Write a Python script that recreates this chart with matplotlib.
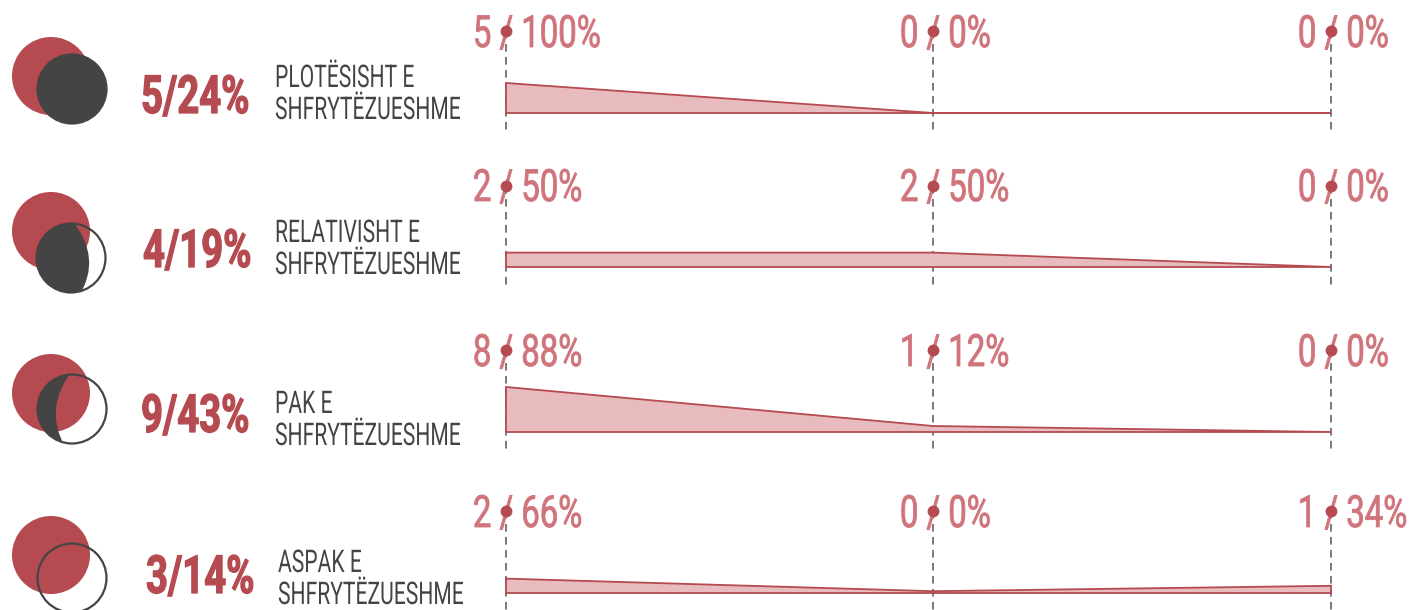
import matplotlib
matplotlib.use("Agg")
import matplotlib.pyplot as plt
from matplotlib.patches import Circle, PathPatch, Polygon
from matplotlib.path import Path
from matplotlib.text import Text
from matplotlib.textpath import TextPath
from matplotlib.transforms import Affine2D, Bbox
from matplotlib.font_manager import FontProperties

# ---- data ----
categories = [["PLOTËSISHT E", "SHFRYTËZUESHME"], ["RELATIVISHT E", "SHFRYTËZUESHME"],
              ["PAK E", "SHFRYTËZUESHME"], ["ASPAK E", "SHFRYTËZUESHME"]]
totals = ["5/24%", "4/19%", "9/43%", "3/14%"]
counts = [[5, 0, 0], [2, 2, 0], [8, 1, 0], [2, 0, 1]]
percents = [[100, 0, 0], [50, 50, 0], [88, 12, 0], [66, 0, 34]]
band_heights = [[5.0, 0, 0], [2.4, 2.4, 0], [7.5, 1.0, 0], [2.4, 0.3, 1.2]]

# ---- layout (pixels) ----
W, H = 1413, 610
RED, PINK, BAND, DARK = "#b54a50", "#d0747b", "#e8bcbf", "#444444"
col_x = [506, 933, 1331]
base_y = [113, 267, 432, 593]
dot_y = [31, 186, 350, 511]
val_base = [47, 201, 366, 527]
total_x = [141, 143, 141, 146]
total_base = [113, 267, 432, 593]
label_x = [275, 275, 275, 278]
label_base = [87, 242, 413, 572]
red_c = [(51, 76), (51, 231), (51, 393), (51, 555)]
ring_c = [(72, 89), (71, 258), (72, 409), (72, 578)]
phase = [None, ((72, 220), (102.5, 258), (79, 296)), ((72, 371), (43.5, 408), (65, 447)), None]
PX_PER_UNIT = 6


class CondensedText(Text):
    """A live Text whose glyphs are set narrower, as no condensed face is installed."""

    def __init__(self, *args, xscale=0.72, pitch=32, embolden=0.0, **kwargs):
        super().__init__(*args, **kwargs)
        self.xscale = xscale
        self.pitch = pitch
        self.embolden = embolden

    def _line_paths(self):
        fp = self.get_fontproperties()
        size = fp.get_size_in_points() * self.get_figure().dpi / 72
        return [TextPath((0, 0), ln, size=size, prop=fp) for ln in self.get_text().split("\n")]

    def _origin(self):
        return self.get_transform().transform(self.get_unitless_position())

    def draw(self, renderer):
        if not self.get_visible():
            return
        x0, y0 = self._origin()
        gc = renderer.new_gc()
        gc.set_foreground(self.get_color())
        gc.set_linewidth(self.embolden)
        gc.set_clip_rectangle(self.get_figure().bbox)
        face = matplotlib.colors.to_rgba(self.get_color())
        for i, p in enumerate(self._line_paths()):
            tr = Affine2D().scale(self.xscale, 1).translate(x0, y0 - i * self.pitch)
            renderer.draw_path(gc, p, tr, face)
        gc.restore()

    def get_window_extent(self, renderer=None, dpi=None):
        x0, y0 = self._origin()
        boxes = []
        for i, p in enumerate(self._line_paths()):
            e = p.get_extents()
            boxes.append(Bbox([[x0 + e.x0 * self.xscale, y0 - i * self.pitch + e.y0],
                               [x0 + e.x1 * self.xscale, y0 - i * self.pitch + e.y1]]))
        return Bbox.union(boxes)


fig = plt.figure(figsize=(W / 100, H / 100), dpi=100, facecolor="white")
ax = fig.add_axes([0, 0, 1, 1])
ax.set_xlim(0, W)
ax.set_ylim(H, 0)
ax.axis("off")


def ctext(x, y, s, xscale, **kw):
    t = CondensedText(x, y, s, xscale=xscale, family="Roboto", va="baseline", ha="left",
                      transform=ax.transData, **kw)
    ax.add_artist(t)
    t.set_clip_on(False)
    return t


VAL_SIZE = 32
VAL_X = 0.74
val_px = VAL_SIZE * 100 / 72
val_fp = FontProperties(family="Roboto")


def slash_offset(n):
    """Distance from the string's start to the centre of its slash, in pixels."""
    upto = TextPath((0, 0), f"{n} /", size=val_px, prop=val_fp).get_extents().x1
    slash = TextPath((0, 0), "/", size=val_px, prop=val_fp).get_extents().width
    return (upto - slash / 2) * VAL_X


for r in range(4):
    ax.add_patch(Circle(red_c[r], 39, fc=RED, ec="none", zorder=2))
    ring = Circle(ring_c[r], 34.5, fc="none", ec=DARK, lw=1.6, zorder=4)
    ax.add_patch(ring)
    if r == 0:
        ax.add_patch(Circle(ring_c[r], 35, fc=DARK, ec="none", zorder=3))
    elif phase[r] is not None:
        top, ctrl, bottom = phase[r]
        verts = [top, ctrl, bottom, (0, bottom[1]), (0, top[1]), top]
        codes = [Path.MOVETO, Path.CURVE3, Path.CURVE3, Path.LINETO, Path.LINETO, Path.CLOSEPOLY]
        dark = PathPatch(Path(verts, codes), fc=DARK, ec="none", zorder=3)
        ax.add_patch(dark)
        dark.set_clip_path(ring)

    ctext(total_x[r], total_base[r], totals[r], 0.725, color=RED, weight="bold", fontsize=38,
          embolden=0.9)
    ctext(label_x[r], label_base[r], "\n".join(categories[r]), 0.675, color=DARK, fontsize=22.5,
          pitch=32)

    tops = [base_y[r] - h * PX_PER_UNIT for h in band_heights[r]]
    outline = list(zip(col_x, tops)) + [(col_x[2], base_y[r]), (col_x[0], base_y[r])]
    ax.add_patch(Polygon(outline, closed=True, fc=BAND, ec=RED, lw=1.3, zorder=3))

    for c in range(3):
        x = col_x[c]
        ax.plot([x, x], [dot_y[r], base_y[r] + 18], color="#555555", lw=1.1,
                dashes=(5, 3.5), zorder=2)
        s = f"{counts[r][c]} / {percents[r][c]}%"
        t = ctext(x - slash_offset(counts[r][c]), val_base[r], s, VAL_X, color=PINK,
                  fontsize=VAL_SIZE, embolden=0.6)
        t.set_zorder(5)
        ax.plot([x], [dot_y[r]], "o", color=RED, ms=8.5, mec="none", zorder=6)

fig.savefig("out.png", dpi=100, facecolor="white")
